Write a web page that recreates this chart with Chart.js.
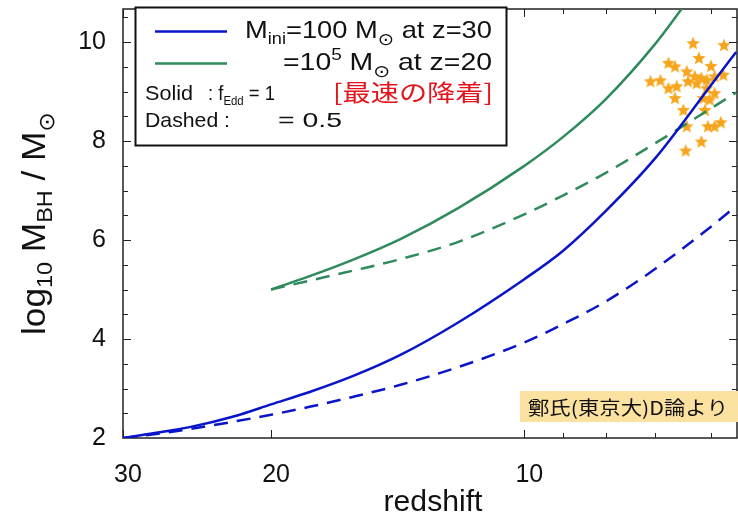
<!DOCTYPE html>
<html>
<head>
<meta charset="utf-8">
<script src="https://cdn.jsdelivr.net/npm/chart.js@4.4.1/dist/chart.umd.min.js"></script>
<style>
  html, body { margin: 0; padding: 0; background: #fff; overflow: hidden; }
  #wrap { width: 745px; height: 519px; }
</style>
</head>
<body>
<div id="wrap"><canvas id="chart" width="745" height="519"></canvas></div>
<script>
// redshift grid the curves were read at
const zGrid = [30, 28, 25, 22, 20, 18, 16, 14, 12, 10, 9, 8, 7, 6, 5.6];
// M_ini = 100 Msun at z=30
const blueSolid  = [2.0, 2.08, 2.22, 2.45, 2.68, 2.93, 3.25, 3.69, 4.33, 5.21, 5.78, 6.59, 7.64, 9.13, 9.80];
const blueDashed = [2.0, 2.06, 2.18, 2.34, 2.47, 2.63, 2.83, 3.08, 3.43, 3.93, 4.30, 4.76, 5.41, 6.27, 6.69];
// M_ini = 1e5 Msun at z=20
const greenSolidZ = [20, 18, 16, 14, 12, 10, 9, 8, 7, 6.45];
const greenSolid  = [5.0, 5.27, 5.60, 6.03, 6.64, 7.50, 8.08, 8.85, 9.95, 10.75];
const greenDashedZ = [20, 18, 16, 14, 12, 10, 9, 8, 7, 6, 5.6];
const greenDashed  = [5.0, 5.18, 5.38, 5.62, 5.96, 6.52, 6.90, 7.36, 7.95, 8.66, 8.98];
// observed quasars
const qsoZ = [6.30, 5.79, 6.20, 6.74, 6.62, 6.00, 7.08, 6.89, 6.41, 6.27, 6.16, 6.07, 5.94, 5.80, 6.74, 6.59,
              6.39, 6.24, 6.07, 5.94, 6.62, 6.13, 6.02, 6.47, 6.10, 6.41, 6.05, 5.94, 5.84, 6.16, 6.43];
const qsoLogM = [9.98, 9.94, 9.68, 9.58, 9.51, 9.52, 9.21, 9.23, 9.41, 9.31, 9.28, 9.24, 9.31, 9.34, 9.07, 9.11,
                 9.21, 9.17, 9.07, 8.97, 8.87, 8.87, 8.84, 8.63, 8.63, 8.30, 8.30, 8.30, 8.38, 7.99, 7.81];

const zMajor = [30, 20, 10];
const zMinor = [9, 8, 7, 6];
const logMTicks = [2, 4, 6, 8, 10];

const BLUE = '#0a14c8';
const GREEN = '#2f8a5c';
const SANS = "'Liberation Sans', Arial, sans-serif";
const CJK = "'Noto Sans CJK JP', 'Noto Sans CJK SC', sans-serif";

const pairs = (xs, ys) => xs.map((x, i) => ({x: x, y: ys[i]}));

function makeStar(r, color) {
    const s = Math.ceil(r * 2 + 2);
    const c = document.createElement('canvas');
    c.width = s; c.height = s;
    const g = c.getContext('2d');
    g.beginPath();
    for (let i = 0; i < 10; i++) {
        const rad = i % 2 ? r * 0.45 : r;
        const ang = -Math.PI / 2 + i * Math.PI / 5;
        g.lineTo(s / 2 + rad * Math.cos(ang), s / 2 + 0.5 + rad * Math.sin(ang));
    }
    g.closePath();
    g.fillStyle = color;
    g.fill();
    return c;
}

// draw a row of text pieces, squeezed/stretched to a target width
function drawRuns(ctx, runs, x, y, width) {
    let total = 0;
    runs.forEach(r => {
        ctx.font = r[1] + 'px ' + (r[4] || SANS);
        total += ctx.measureText(r[0]).width;
    });
    const sx = width ? width / total : 1;
    ctx.save();
    ctx.translate(x, y);
    ctx.scale(sx, 1);
    ctx.textBaseline = 'alphabetic';
    ctx.textAlign = 'left';
    let cx = 0;
    runs.forEach(r => {
        ctx.font = r[1] + 'px ' + (r[4] || SANS);
        ctx.fillStyle = r[3] || '#111';
        ctx.fillText(r[0], cx, r[2]);
        cx += ctx.measureText(r[0]).width;
    });
    ctx.restore();
}

const frame = {
    id: 'frame',
    beforeDatasetsDraw(chart) {
        const {ctx, chartArea: a, scales: {x, y}} = chart;
        ctx.save();
        ctx.strokeStyle = '#222';
        ctx.lineWidth = 1.5;
        ctx.strokeRect(a.left, a.top, a.right - a.left, a.bottom - a.top);
        ctx.lineWidth = 1;
        ctx.beginPath();
        zMajor.concat(zMinor).forEach(v => {
            const px = Math.round(x.getPixelForValue(v)) + 0.5;
            const len = zMajor.includes(v) ? 8 : 5;
            ctx.moveTo(px, a.bottom); ctx.lineTo(px, a.bottom - len);
            ctx.moveTo(px, a.top); ctx.lineTo(px, a.top + len);
        });
        for (let v = 2.5; v <= 10.5; v += 0.5) {
            const py = Math.round(y.getPixelForValue(v)) + 0.5;
            const len = logMTicks.includes(v) ? 8 : 5;
            ctx.moveTo(a.left, py); ctx.lineTo(a.left + len, py);
            ctx.moveTo(a.right, py); ctx.lineTo(a.right - len, py);
        }
        ctx.stroke();
        ctx.restore();
    },
    afterDraw(chart) {
        const ctx = chart.ctx;
        ctx.save();
        // legend box
        ctx.fillStyle = '#fff';
        ctx.fillRect(135.5, 7.5, 371, 138);
        ctx.strokeStyle = '#111';
        ctx.lineWidth = 2;
        ctx.strokeRect(135.5, 7.5, 371, 138);
        ctx.lineWidth = 2.5;
        ctx.strokeStyle = BLUE;
        ctx.beginPath(); ctx.moveTo(155, 31.5); ctx.lineTo(227, 31.5); ctx.stroke();
        ctx.strokeStyle = GREEN;
        ctx.beginPath(); ctx.moveTo(155, 63.5); ctx.lineTo(227, 63.5); ctx.stroke();

        drawRuns(ctx, [['M', 24, 0], ['ini', 16, 6], ['=100 M', 24, 0], ['\u2299', 17, 7, null, "'DejaVu Sans'"], [' at z=30', 24, 0]], 245, 38, 247);
        drawRuns(ctx, [['=10', 24, 0], ['5', 16, -10], [' M', 24, 0], ['\u2299', 17, 7, null, "'DejaVu Sans'"], [' at z=20', 24, 0]], 283, 70, 209);
        drawRuns(ctx, [['Solid', 21, 0]], 145, 100, 48);
        drawRuns(ctx, [[': f', 21, 0], ['Edd', 13, 5], [' = 1', 21, 0]], 208, 100, 67);
        drawRuns(ctx, [['[最速の降着]', 23, 0, '#e3141c', CJK]], 333, 101, 160);
        drawRuns(ctx, [['Dashed :', 21, 0]], 145, 127, 85);
        drawRuns(ctx, [['= 0.5', 21, 0]], 278, 127, 64);

        // source note
        ctx.fillStyle = '#fbe2a0';
        ctx.fillRect(520, 391, 230, 31);
        drawRuns(ctx, [['鄭氏(東京大)D論より', 19, 0, '#111', CJK]], 528, 415, 200);

        // axis titles
        drawRuns(ctx, [['redshift', 30, 0]], 383.5, 511, 99);
        ctx.save();
        ctx.translate(45, 335);
        ctx.rotate(-Math.PI / 2);
        drawRuns(ctx, [['log', 33, 0], ['10', 22, 7], [' M', 33, 0], ['BH', 22, 7], [' / M', 33, 0],
                       ['\u2299', 22, 9, null, "'DejaVu Sans'"]], 0, 0, 223);
        ctx.restore();
        ctx.restore();
    }
};

const star = makeStar(7, '#f7a51e');

const config = {
    type: 'scatter',
    data: {
        datasets: [
            { label: 'blue solid', data: pairs(zGrid, blueSolid), showLine: true, borderColor: BLUE,
              borderWidth: 2.5, pointRadius: 0, cubicInterpolationMode: 'monotone' },
            { label: 'blue dashed', data: pairs(zGrid, blueDashed), showLine: true, borderColor: BLUE,
              borderWidth: 2.5, borderDash: [14, 9], pointRadius: 0, cubicInterpolationMode: 'monotone' },
            { label: 'green solid', data: pairs(greenSolidZ, greenSolid), showLine: true, borderColor: GREEN,
              borderWidth: 2.5, pointRadius: 0, cubicInterpolationMode: 'monotone' },
            { label: 'green dashed', data: pairs(greenDashedZ, greenDashed), showLine: true, borderColor: GREEN,
              borderWidth: 2.5, borderDash: [14, 9], pointRadius: 0, cubicInterpolationMode: 'monotone' },
            { label: 'quasars', data: pairs(qsoZ, qsoLogM), pointStyle: star, pointRadius: 7 }
        ]
    },
    options: {
        responsive: false,
        animation: false,
        devicePixelRatio: 1,
        layout: { padding: { top: 9, right: 3, left: 0, bottom: 0 } },
        plugins: {
            legend: { display: false },
            tooltip: { enabled: false }
        },
        scales: {
            x: {
                type: 'logarithmic',
                reverse: true,
                min: 5.587,
                max: 30,
                grid: { display: false },
                border: { display: false },
                afterBuildTicks: (scale) => { scale.ticks = zMajor.concat(zMinor).map(v => ({value: v})); },
                afterFit: (scale) => {
                    scale.height = 81;
                    scale.paddingLeft = 0;
                    scale.paddingRight = 0;
                },
                ticks: {
                    autoSkip: false,
                    maxRotation: 0,
                    padding: 14,
                    labelOffset: 5,
                    color: '#111',
                    font: { size: 25, family: SANS },
                    callback: (v) => zMajor.includes(Math.round(v)) ? String(Math.round(v)) : ''
                }
            },
            y: {
                min: 2,
                max: 10.67,
                grid: { display: false },
                border: { display: false },
                afterBuildTicks: (scale) => { scale.ticks = logMTicks.map(v => ({value: v})); },
                afterFit: (scale) => {
                    scale.width = 123;
                    scale.paddingTop = 0;
                    scale.paddingBottom = 0;
                },
                ticks: {
                    padding: 9,
                    color: '#111',
                    font: { size: 25, family: SANS }
                }
            }
        }
    },
    plugins: [frame]
};

const ctx = document.querySelector('#chart').getContext('2d');
const myChart = new Chart(ctx, config);
</script>
</body>
</html>
